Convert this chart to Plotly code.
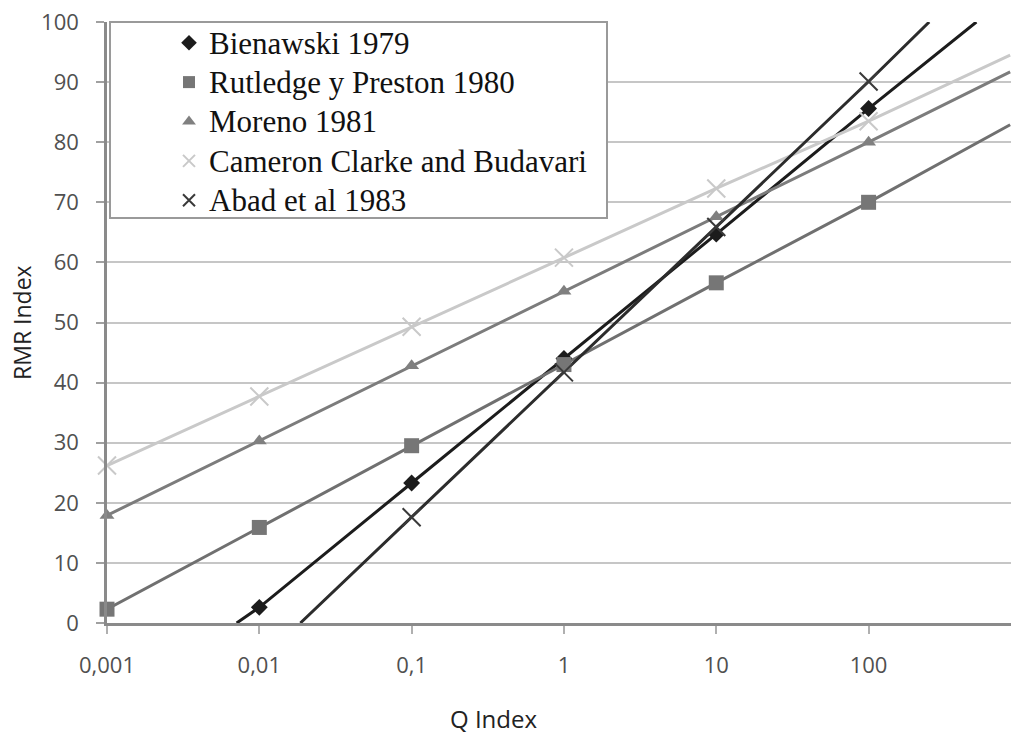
import plotly.graph_objects as go

# ---- data ----
q_values = [0.001, 0.01, 0.1, 1, 10, 100]
q_ticktext = ["0,001", "0,01", "0,1", "1", "10", "100"]
rmr_ticks = [0, 10, 20, 30, 40, 50, 60, 70, 80, 90, 100]

series_names = ["Bienawski 1979", "Rutledge y Preston 1980", "Moreno 1981",
                "Cameron Clarke and Budavari", "Abad et al 1983"]

bienawski = [None, 2.6, 23.3, 44.0, 64.7, 85.6]
rutledge = [2.3, 15.9, 29.5, 43.0, 56.6, 70.0]
moreno = [17.9, 30.3, 42.8, 55.2, 67.6, 80.0]
cameron = [26.2, 37.7, 49.3, 60.8, 72.3, 83.5]
abad = [None, None, 17.6, 41.7, 65.9, 90.1]

# where the fitted lines run on beyond the markers (Q, RMR) at the plot edges
bienawski_ends = [(0.0071, 0.0), (510, 100.0)]
rutledge_ends = [None, (850, 82.9)]
moreno_ends = [None, (850, 91.7)]
cameron_ends = [None, (850, 94.5)]
abad_ends = [(0.0186, 0.0), (250, 100.0)]

values = [bienawski, rutledge, moreno, cameron, abad]
ends = [bienawski_ends, rutledge_ends, moreno_ends, cameron_ends, abad_ends]

# ---- styles ----
line_colors = ["#1c1c1c", "#707070", "#7c7c7c", "#c9c9c9", "#2c2c2c"]
marker_colors = ["#1c1c1c", "#767676", "#808080", "#c9c9c9", "#3a3a3a"]
symbols = ["diamond", "square", "triangle-up", "x-thin-open", "x-thin-open"]
sizes = [13, 15, 13, 18, 18]

W, H = 1011, 738
L, R, T, B = 107, 0, 22, 115
pw, ph = W - L - R, H - T - B


def px_x(p):
    return (p - L) / pw


def px_y(p):
    return (H - B - p) / ph


fig = go.Figure()

# lines
for i, name in enumerate(series_names):
    xs, ys = [], []
    start, end = ends[i]
    if start is not None:
        xs.append(start[0]); ys.append(start[1])
    for q, v in zip(q_values, values[i]):
        if v is not None:
            xs.append(q); ys.append(v)
    if end is not None:
        xs.append(end[0]); ys.append(end[1])
    fig.add_trace(go.Scatter(x=xs, y=ys, mode="lines", showlegend=False,
                             hoverinfo="skip",
                             line=dict(color=line_colors[i], width=3)))

# markers
for i, name in enumerate(series_names):
    xs = [q for q, v in zip(q_values, values[i]) if v is not None]
    ys = [v for v in values[i] if v is not None]
    open_sym = symbols[i].endswith("open")
    fig.add_trace(go.Scatter(
        x=xs, y=ys, mode="markers",
        name="<span style='font-size:31px'>" + name + "</span>",
        cliponaxis=False,
        marker=dict(symbol=symbols[i], size=sizes[i], color=marker_colors[i],
                    line=dict(width=2 if open_sym else 0, color=marker_colors[i]))))

fig.update_layout(
    width=W, height=H,
    margin=dict(l=L, r=R, t=T, b=B),
    paper_bgcolor="white", plot_bgcolor="white",
    showlegend=True,
    legend=dict(x=px_x(169), y=px_y(18), xanchor="left", yanchor="top",
                bgcolor="rgba(0,0,0,0)", borderwidth=0,
                font=dict(family="Liberation Serif", size=28, color="#111111"),
                itemsizing="constant", tracegroupgap=0),
    shapes=[dict(type="rect", xref="paper", yref="paper", layer="above",
                 x0=px_x(110), x1=px_x(607), y0=px_y(218), y1=px_y(22),
                 fillcolor="white", line=dict(color="#9a9a9a", width=2))],
    annotations=[
        dict(text="Q Index", xref="paper", yref="paper", x=px_x(493), y=px_y(718),
             xanchor="center", yanchor="middle", showarrow=False,
             font=dict(family="Open Sans", size=24, color="#222222")),
        dict(text="RMR Index", xref="paper", yref="paper", x=px_x(22), y=px_y(323),
             xanchor="center", yanchor="middle", showarrow=False, textangle=-90,
             font=dict(family="Open Sans", size=23, color="#222222")),
    ],
)

fig.update_xaxes(type="log", range=[-3, 2.935], tickvals=q_values, ticktext=q_ticktext,
                 showgrid=False, zeroline=False, showline=True, linecolor="#8a8a8a",
                 linewidth=2.5, ticks="outside", ticklen=8, tickwidth=2,
                 tickcolor="#b0b0b0", ticklabelstandoff=13,
                 tickfont=dict(family="Open Sans", size=22, color="#505050"))
fig.update_yaxes(range=[0, 100], tickvals=rmr_ticks, showgrid=True,
                 gridcolor="#c6c6c6", gridwidth=2, zeroline=False, showline=True,
                 linecolor="#8a8a8a", linewidth=2.5, ticks="outside", ticklen=8,
                 tickwidth=2, tickcolor="#a0a0a0", ticklabelstandoff=13,
                 tickfont=dict(family="Open Sans", size=22, color="#505050"))

fig.write_html("out.html",
               config={"displayModeBar": False},
               post_script="document.body.style.margin='0';document.body.style.overflow='hidden';")
